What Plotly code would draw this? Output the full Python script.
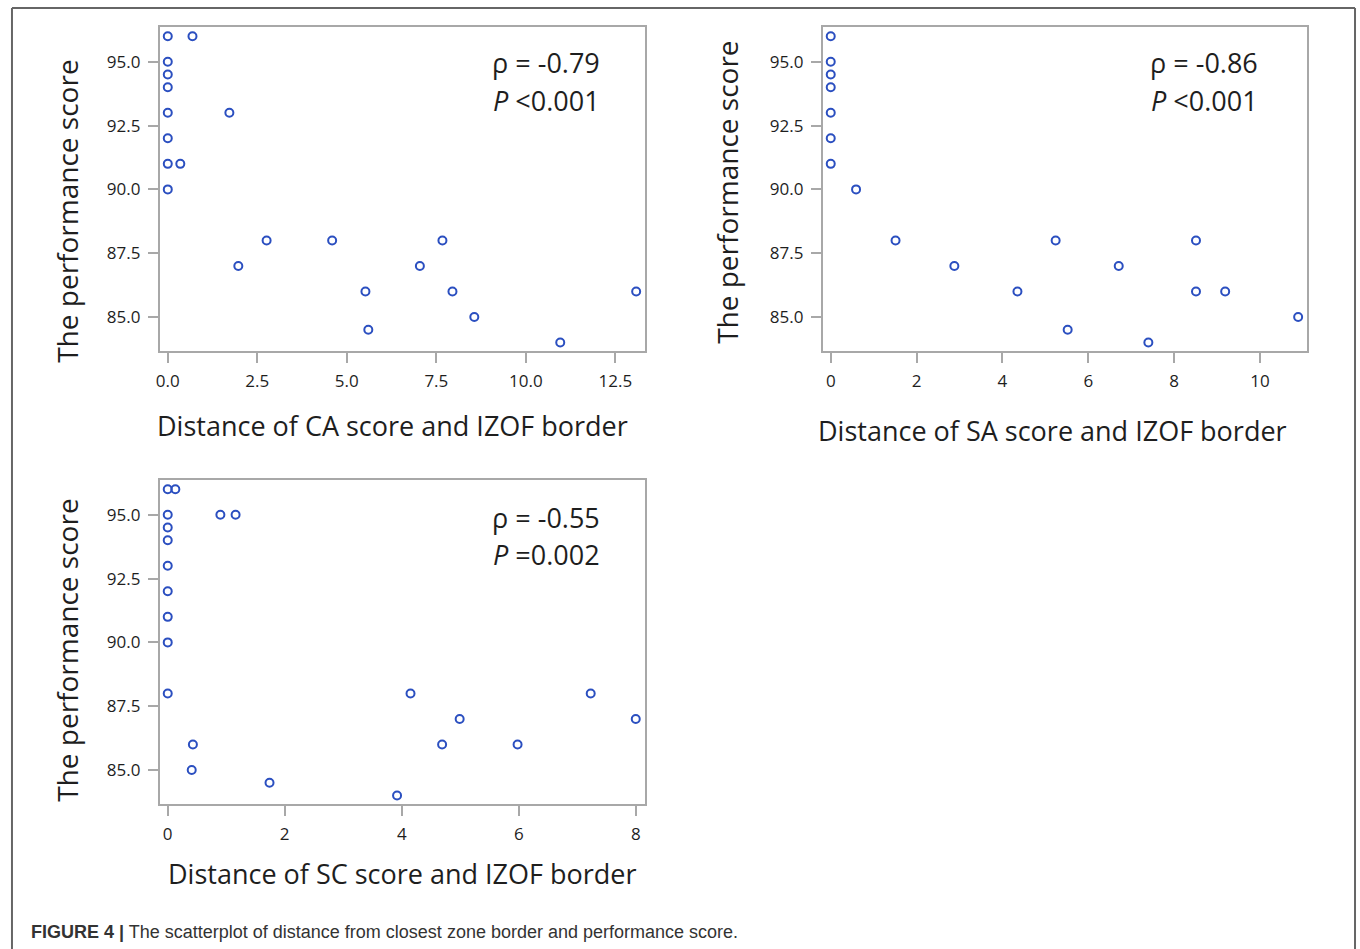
import plotly.graph_objects as go

W, H = 1360, 949

# ---- data ----
ca_distance = [0, 0.69, 0, 0, 0, 0, 1.72, 0, 0, 0.35, 0, 2.76, 4.59, 7.67, 1.97, 7.04, 5.52, 7.95, 13.08, 8.56, 5.60, 10.96]
ca_score    = [96, 96, 95, 94.5, 94, 93, 93, 92, 91, 91, 90, 88, 88, 88, 87, 87, 86, 86, 86, 85, 84.5, 84]

sa_distance = [0, 0, 0, 0, 0, 0, 0, 0.59, 1.51, 2.88, 4.35, 5.24, 5.52, 6.71, 7.40, 8.51, 8.51, 9.19, 10.89]
sa_score    = [96, 95, 94.5, 94, 93, 92, 91, 90, 88, 87, 86, 88, 84.5, 87, 84, 88, 86, 86, 85]

sc_distance = [0, 0.13, 0, 0.90, 1.16, 0, 0, 0, 0, 0, 0, 0, 0.43, 0.41, 1.74, 3.92, 4.15, 4.69, 4.99, 5.98, 7.23, 8.0]
sc_score    = [96, 96, 95, 95, 95, 94.5, 94, 93, 92, 91, 90, 88, 86, 85, 84.5, 84, 88, 86, 87, 86, 88, 87]

x_titles = ["Distance of CA score and IZOF border",
            "Distance of SA score and IZOF border",
            "Distance of SC score and IZOF border"]
y_title = "The performance score"
stats_rho = ["ρ = -0.79", "ρ = -0.86", "ρ = -0.55"]
stats_p = ["<0.001", "<0.001", "=0.002"]
caption_bold = "FIGURE 4 |"
caption_text = " The scatterplot of distance from closest zone border and performance score."

# ---- layout helpers ----
def px(x):
    return x / W

def py(y):
    return 1 - y / H

MARK = "#2b4fc0"
AXC = "#a8a8a8"
TXT = "#1e1e1e"
FONT = "Open Sans"

fig = go.Figure()
series = [(ca_distance, ca_score), (sa_distance, sa_score), (sc_distance, sc_score)]
for i, (xs, ys) in enumerate(series):
    sfx = "" if i == 0 else str(i + 1)
    fig.add_trace(go.Scatter(
        x=xs, y=ys, mode="markers", xaxis="x" + sfx, yaxis="y" + sfx,
        marker=dict(symbol="circle-open", size=8, color=MARK, line=dict(width=2, color=MARK)),
        showlegend=False, hoverinfo="x+y"))

# panel boxes in pixels: (left, top, right, bottom)
boxes = [(156, 27, 643, 351), (821, 27, 1307, 351), (156, 480, 643, 804)]
xranges = [[-0.23, 13.33], [-0.19, 11.10], [-0.14, 8.16]]
xdticks = [2.5, 2, 2]
xfmts = [".1f", "d", "d"]
yrange = [83.67, 96.36]

axis_common = dict(showline=True, linecolor=AXC, linewidth=1.5, mirror=True,
                   ticks="outside", ticklen=10, tickcolor=AXC, tickwidth=1.5,
                   showgrid=False, zeroline=False, ticklabelstandoff=4,
                   tickfont=dict(family=FONT, size=17, color=TXT))

layout = dict(width=W, height=H, margin=dict(l=0, r=0, t=0, b=0),
              paper_bgcolor="white", plot_bgcolor="white", showlegend=False)

for i, (l, t, r, b) in enumerate(boxes):
    sfx = "" if i == 0 else str(i + 1)
    layout["xaxis" + sfx] = dict(domain=[px(l), px(r)], anchor="y" + sfx,
                                 range=xranges[i], tick0=0, dtick=xdticks[i],
                                 tickformat=xfmts[i], **axis_common)
    layout["yaxis" + sfx] = dict(domain=[py(b), py(t)], anchor="x" + sfx,
                                 range=yrange, tick0=85, dtick=2.5,
                                 tickformat=".1f", **axis_common)

fig.update_layout(**layout)

annotations = []
xtitle_pos = [(390, 425), (1052, 430), (400, 873)]
ytitle_pos = [(63, 211), (725, 192), (63, 650)]
stat_pos = [(600, 63), (1260, 63), (600, 517)]
for i in range(3):
    xp, yp = xtitle_pos[i]
    annotations.append(dict(x=px(xp), y=py(yp), xref="paper", yref="paper",
                            text=x_titles[i], showarrow=False, xanchor="center", yanchor="middle",
                            font=dict(family=FONT, size=27, color=TXT)))
    xp, yp = ytitle_pos[i]
    annotations.append(dict(x=px(xp), y=py(yp), xref="paper", yref="paper",
                            text=y_title, showarrow=False, textangle=-90,
                            xanchor="center", yanchor="middle",
                            font=dict(family=FONT, size=28, color=TXT)))
    xp, yp = stat_pos[i]
    annotations.append(dict(x=px(xp), y=py(yp), xref="paper", yref="paper",
                            text=stats_rho[i], showarrow=False, xanchor="right", yanchor="middle",
                            font=dict(family=FONT, size=27, color=TXT)))
    annotations.append(dict(x=px(xp), y=py(yp + 37), xref="paper", yref="paper",
                            text="<i>P</i> " + stats_p[i], showarrow=False, xanchor="right", yanchor="middle",
                            font=dict(family=FONT, size=27, color=TXT)))

annotations.append(dict(x=px(25), y=py(932), xref="paper", yref="paper",
                        text="<b>" + caption_bold + "</b>" + caption_text, showarrow=False,
                        xanchor="left", yanchor="middle",
                        font=dict(family="Liberation Sans Narrow, Arial Narrow, Liberation Sans", size=18, color="#333333")))
fig.update_layout(annotations=annotations)

# outer frame of the figure panel
shapes = [
    dict(type="line", xref="paper", yref="paper", x0=px(8), x1=px(8), y0=py(8), y1=0, line=dict(color="#666666", width=2)),
    dict(type="line", xref="paper", yref="paper", x0=px(1355), x1=px(1355), y0=py(8), y1=0, line=dict(color="#666666", width=2)),
    dict(type="line", xref="paper", yref="paper", x0=px(8), x1=px(1355), y0=py(8), y1=py(8), line=dict(color="#666666", width=2)),
]
fig.update_layout(shapes=shapes)

fig.write_html("out.html", config={"displayModeBar": False},
               post_script="document.body.style.margin='0px';document.body.style.padding='0px';document.body.style.overflow='hidden';")
